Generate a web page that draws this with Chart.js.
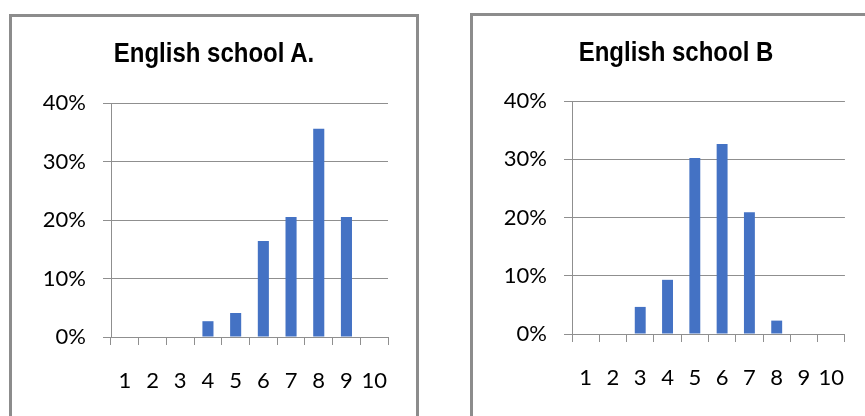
<!DOCTYPE html>
<html>
<head>
<meta charset="utf-8">
<script src="https://cdn.jsdelivr.net/npm/chart.js@4"></script>
<style>
    html, body { margin: 0; padding: 0; background: #fff; }
    body { width: 865px; height: 416px; position: relative; overflow: hidden; }
    .panel { position: absolute; border: 3px solid #8c8c8c; border-bottom: none; box-sizing: border-box; }
    #panelA { left: 9px; top: 14px; width: 410px; height: 410px; }
    #panelB { left: 470px; top: 13px; width: 410px; height: 410px; border-right: none; }
    .panel canvas { position: absolute; left: 0; top: 0; }
    .title { position: absolute; top: 20px; width: 300px; text-align: center; color: #000;
             font: bold 24px "Liberation Sans", Arial, sans-serif; line-height: 32px;
             transform: scaleY(1.15); transform-origin: center center; }
    #titleA { left: 52px; }
    #titleB { left: 53px; }
</style>
</head>
<body>
<div class="panel" id="panelA"><canvas id="chartA" width="404" height="407"></canvas><div class="title" id="titleA">English school A.</div></div>
<div class="panel" id="panelB"><canvas id="chartB" width="395" height="407"></canvas><div class="title" id="titleB">English school B</div></div>
<script>
// ===== DATA =====
const marks = ['1', '2', '3', '4', '5', '6', '7', '8', '9', '10'];
const schoolA = [0, 0, 0, 2.7, 4.1, 16.4, 20.5, 35.6, 20.5, 0];
const schoolB = [0, 0, 4.65, 9.3, 30.2, 32.6, 20.9, 2.3, 0, 0];
const yTicks = [0, 10, 20, 30, 40];

const BAR = '#4472C4';
const GRID = '#8f8f8f';

function makeChart(id, values, pad) {
    new Chart(document.getElementById(id), {
        type: 'bar',
        data: {
            labels: marks,
            datasets: [{
                data: values,
                backgroundColor: BAR,
                categoryPercentage: 1,
                barPercentage: 0.4
            }]
        },
        options: {
            responsive: false,
            animation: false,
            layout: { padding: { left: 0, right: pad.right, top: pad.top, bottom: 0 } },
            plugins: {
                legend: { display: false },
                tooltip: { enabled: false }
            },
            scales: {
                x: {
                    grid: { offset: true, drawOnChartArea: false, color: GRID, tickLength: 8 },
                    border: { color: GRID },
                    ticks: { color: '#000', padding: 23, maxRotation: 0, autoSkip: false,
                             font: { family: 'Lato', size: 22 } },
                    afterFit: s => { s.height = pad.xh; }
                },
                y: {
                    min: 0, max: 40,
                    afterBuildTicks: s => { s.ticks = yTicks.map(v => ({ value: v })); },
                    grid: { color: GRID, tickLength: 8 },
                    border: { color: GRID },
                    ticks: { color: '#000', padding: 17, callback: v => v + '%',
                             font: { family: 'Lato', size: 22 } },
                    afterFit: s => { s.width = pad.left; }
                }
            }
        }
    });
}

makeChart('chartA', schoolA, { left: 99, right: 28, top: 86, xh: 87 });
makeChart('chartB', schoolB, { left: 99, right: 19, top: 85, xh: 89 });
</script>
</body>
</html>
